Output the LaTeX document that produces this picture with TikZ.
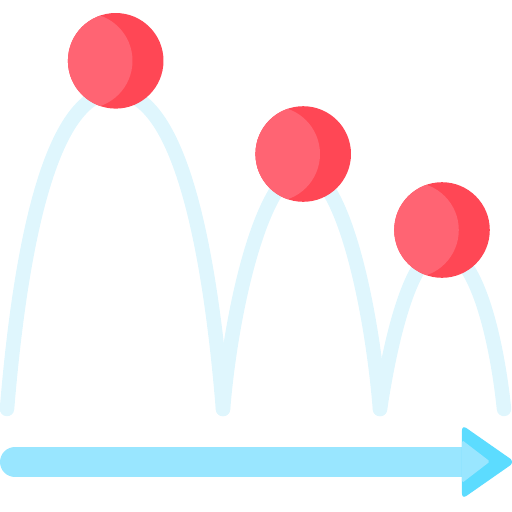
\documentclass[tikz,border=0pt]{standalone}
\definecolor{pathblue}{HTML}{DFF6FD}
\definecolor{shaftblue}{HTML}{99E6FF}
\definecolor{headblue}{HTML}{5CDCFF}
\definecolor{balldark}{HTML}{FF4755}
\definecolor{balllight}{HTML}{FF6473}
\tikzset{
  bounce/.style={draw=pathblue,line width=0.29cm,line cap=round,line join=round},
  shaft/.style={draw=shaftblue,line width=0.6cm,line cap=round},
  ballbase/.style={fill=balldark},
  ballshade/.style={fill=balllight}
}
\begin{document}
\begin{tikzpicture}[x=0.02cm,y=-0.02cm]
        \useasboundingbox (0,0) rectangle (512,512);
        % Bounces
        \draw[bounce] (7,409) .. controls (20,250) and (50,92) .. (115,92);
        \draw[bounce] (115,92) .. controls (180,92) and (210,250) .. (223,409);
        \draw[bounce] (223,409) .. controls (232,300) and (265,170) .. (303,170);
        \draw[bounce] (303,170) .. controls (341,170) and (371,300) .. (380,409);
        \draw[bounce] (380,409) .. controls (391,336) and (412,250) .. (442,250);
        \draw[bounce] (442,250) .. controls (476,250) and (497,340) .. (504,409);
        % Shaft
        \draw[shaft] (15,462) -- (470,462);
        % Head
        \fill[headblue,rounded corners=3pt] (462,425) -- (515,462) -- (462,499) -- cycle;
        \fill[shaftblue,rounded corners=1pt] (462,440) -- (490,461.5) -- (462,483) -- cycle;
        % Ball 1
        \fill[ballbase] (115.7,60.8) circle (47.8);
        \begin{scope}
          \clip (115.7,60.8) circle (47.8);
          \fill[ballshade] (84.7,60.8) circle (47.8);
        \end{scope}
        % Ball 2
        \fill[ballbase] (303.2,154) circle (47.8);
        \begin{scope}
          \clip (303.2,154) circle (47.8);
          \fill[ballshade] (272.2,154) circle (47.8);
        \end{scope}
        % Ball 3
        \fill[ballbase] (442,230) circle (47.8);
        \begin{scope}
          \clip (442,230) circle (47.8);
          \fill[ballshade] (411,230) circle (47.8);
        \end{scope}
\end{tikzpicture}
\end{document}
